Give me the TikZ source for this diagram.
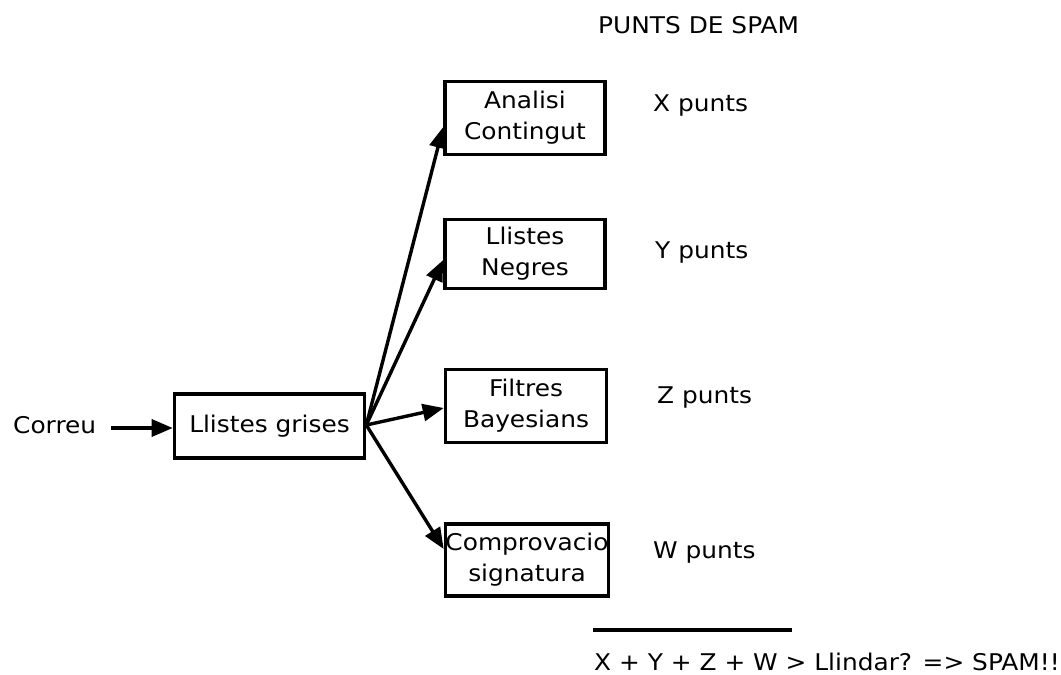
\documentclass[tikz,border=0pt]{standalone}
\usepackage{fontspec}
\setmainfont{DejaVu Sans}[FakeStretch=1.08]
\usetikzlibrary{arrows.meta,calc}
\begin{document}
\begin{tikzpicture}[x=1pt,y=-1pt,
  txt/.style={font=\fontsize{23}{31}\selectfont, inner sep=0pt},
  lbl/.style={txt, anchor=base west},
  stage/.style={txt, draw, line width=3.6pt, align=center},
  flow/.style={line width=3.4pt, -{Triangle[length=21pt,width=17pt]}}]
  \useasboundingbox (0,0) rectangle (1061,675);

  % input and grey list
  \node[lbl] (correu) at (13,433) {Correu};
  \node[stage, minimum width=190pt, minimum height=64pt] (lg) at (269.5,426) {Llistes grises};

  % filter stages
  \node[stage, minimum width=160pt, minimum height=73pt] (an) at (525,118) {Analisi\\Contingut};
  \node[stage, minimum width=160pt, minimum height=69pt] (ln) at (525,254) {Llistes\\Negres};
  \node[stage, minimum width=161pt, minimum height=73pt] (fb) at (526,406) {Filtres\\Bayesians};
  \node[stage, minimum width=163pt, minimum height=72pt] (cs) at (527,560) {Comprovacio\\signatura};

  % score column
  \node[lbl] (title) at (598,33) {PUNTS DE SPAM};
  \node[lbl] (px) at (653,111) {X punts};
  \node[lbl] (py) at (655,258) {Y punts};
  \node[lbl] (pz) at (657,403) {Z punts};
  \node[lbl] (pw) at (653,558) {W punts};

  % sum rule
  \coordinate (ra) at (593,630);
  \coordinate (rb) at (792,630);
  \draw[line width=3.4pt] (ra) -- (rb);
  \node[lbl] (sum) at (594,670) {X + Y + Z + W > Llindar? => SPAM!!};

  % connectors
  \coordinate (hub) at ($(lg.east)+(0,-1)$);
  \draw[flow] ($(correu.base east)+(15,-5)$) -- (lg.west |- 0,428);
  \draw[flow] (hub) -- ($(an.west)+(0,9)$);
  \draw[flow] (hub) -- ($(ln.west)+(0,6)$);
  \draw[flow] (hub) -- ($(fb.west)+(0,2)$);
  \draw[flow] (hub) -- ($(cs.west)+(0,-11)$);
\end{tikzpicture}
\end{document}
